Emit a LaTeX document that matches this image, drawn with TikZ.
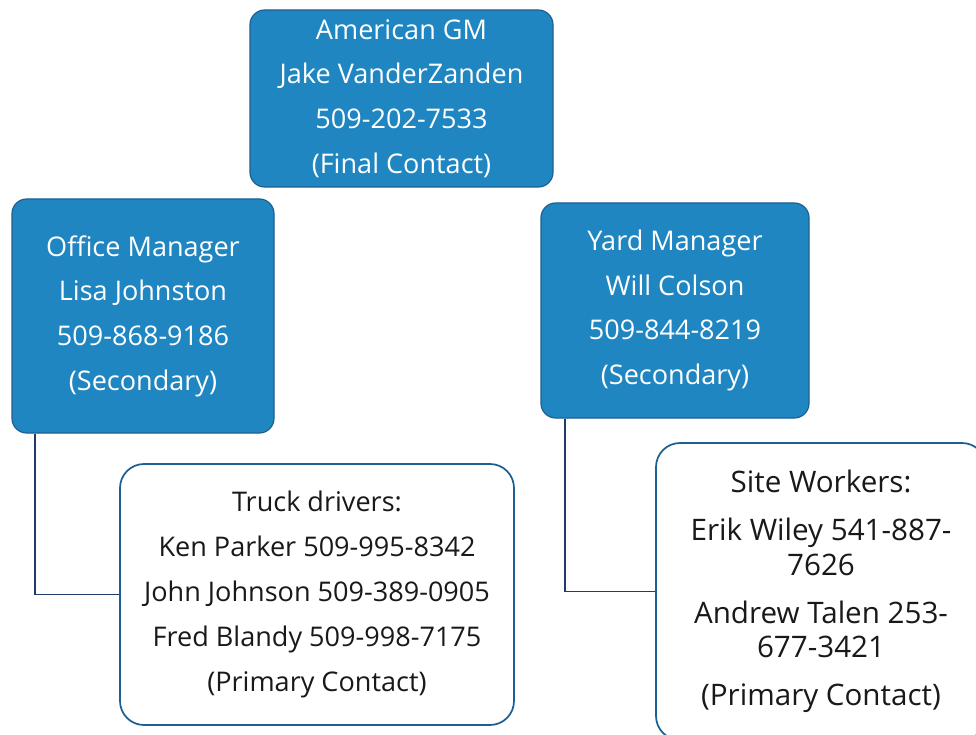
\documentclass[tikz,border=0pt]{standalone}
\usepackage{fontspec}
\setmainfont{Open Sans}
\definecolor{boxblue}{RGB}{31,134,193}
\definecolor{boxedge}{RGB}{28,96,145}
\definecolor{lineblue}{RGB}{30,60,105}
\definecolor{txt}{RGB}{25,25,25}
\begin{document}
\begin{tikzpicture}[x=0.75pt,y=-0.75pt,
  bluebox/.style={draw=boxedge,line width=0.9pt,fill=boxblue,rounded corners=11pt,
    text=white,align=center,inner sep=0pt,font=\fontsize{20.3}{33.5}\selectfont},
  whitebox/.style={draw=boxedge,line width=1.3pt,fill=white,rounded corners=18pt,
    text=txt,align=center,inner sep=0pt,font=\fontsize{20.3}{33.75}\selectfont},
  conn/.style={draw=lineblue,line width=1.4pt}]
\useasboundingbox (0,0) rectangle (976,735);
\clip (0,0) rectangle (976,735);
\fill[white] (0,0) rectangle (976,735);
\node[bluebox,minimum width=303*0.75pt,minimum height=177*0.75pt] (gm) at (401.5,98.5)
  {American GM\\Jake VanderZanden\\509-202-7533\\(Final Contact)};
\node[bluebox,minimum width=262*0.75pt,minimum height=234*0.75pt] (office) at (143,316)
  {Office Manager\\Lisa Johnston\\509-868-9186\\(Secondary)};
\node[bluebox,minimum width=268*0.75pt,minimum height=215*0.75pt] (yard) at (675,310.5)
  {Yard Manager\\Will Colson\\509-844-8219\\(Secondary)};
\node[whitebox,minimum width=394*0.75pt,minimum height=261*0.75pt] (truck) at (317,594.5)
  {Truck drivers:\\Ken Parker 509-995-8342\\John Johnson 509-389-0905\\Fred Blandy 509-998-7175\\(Primary Contact)};
\node[whitebox,minimum width=330*0.75pt,minimum height=297*0.75pt,
  font=\fontsize{22.2}{26}\selectfont] (site) at (821,591.5)
  {Site Workers:\\[10pt]Erik Wiley 541-887-\\7626\\[10pt]Andrew Talen 253-\\677-3421\\[10pt](Primary Contact)};
\draw[conn] (office.south west) ++(24,0) |- (truck.west);
\draw[conn] (yard.south west) ++(25,0) |- (site.west);
\end{tikzpicture}
\end{document}
